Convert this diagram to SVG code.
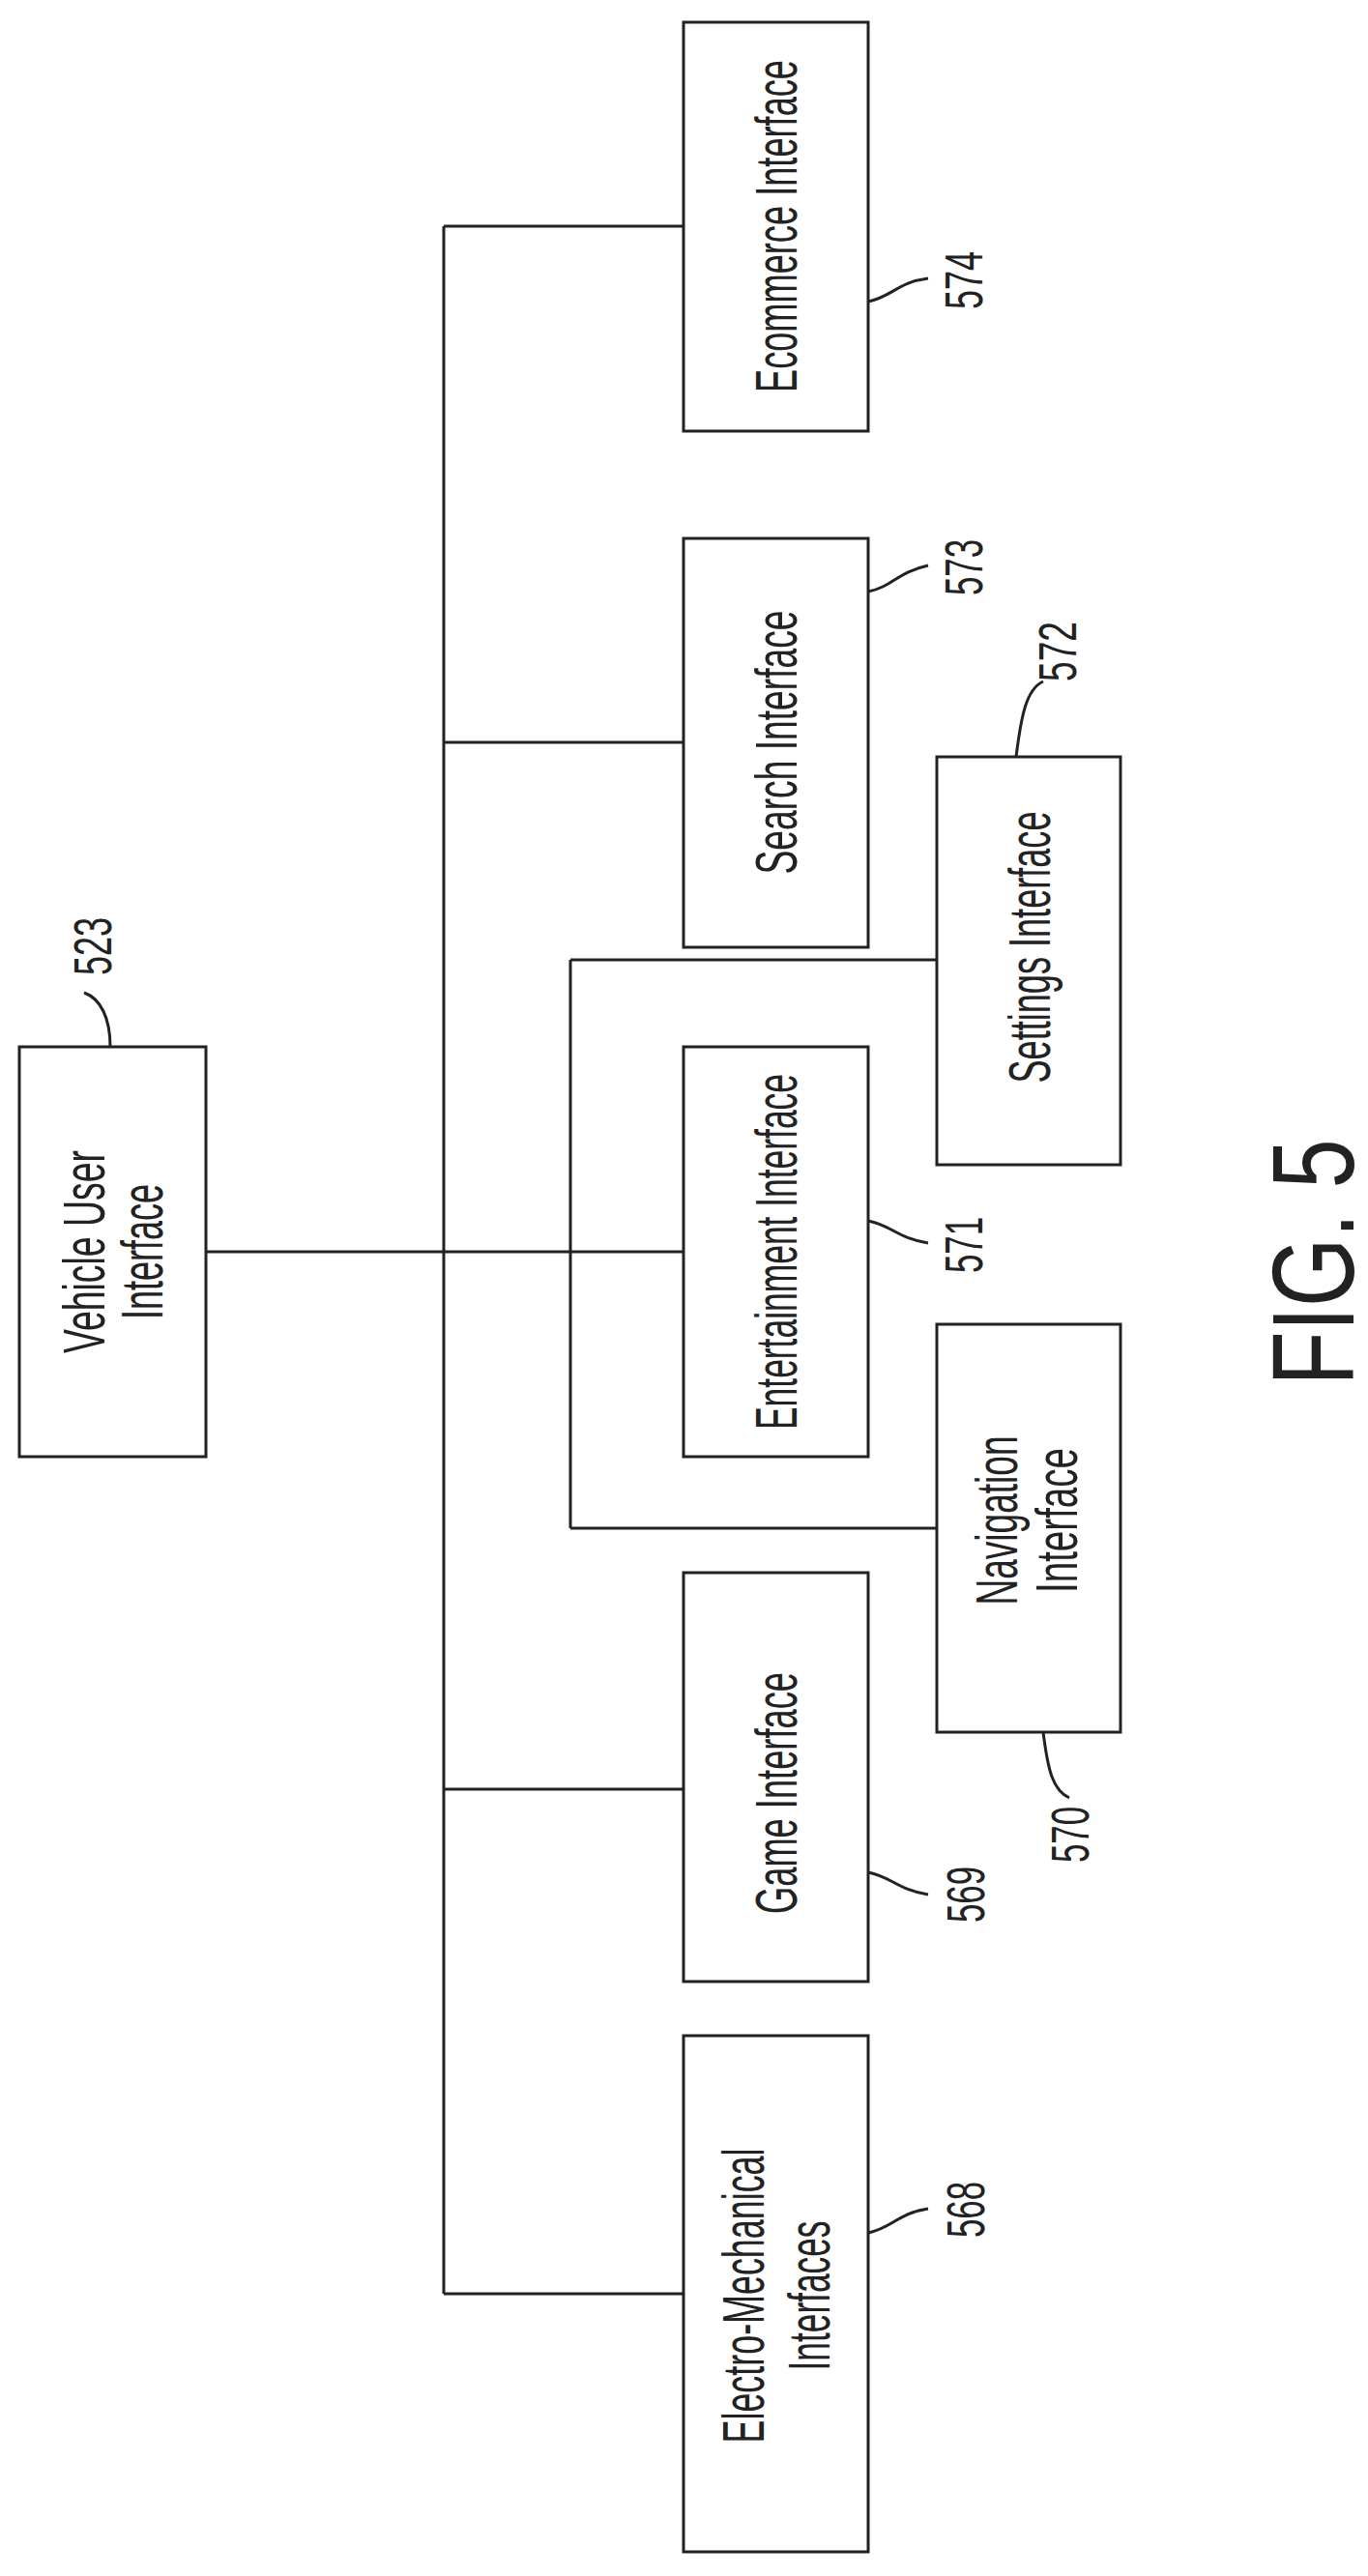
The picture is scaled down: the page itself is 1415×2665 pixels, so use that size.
<svg xmlns="http://www.w3.org/2000/svg" width="1415" height="2665" viewBox="0 0 1415 2665">
<style>
.b{fill:#fff;stroke:#222;stroke-width:3}
.c{fill:none;stroke:#222;stroke-width:3}
.t{font-family:"Liberation Sans",Arial,sans-serif;font-size:62px;fill:#222;text-anchor:middle}
.n{font-family:"Liberation Sans",Arial,sans-serif;font-size:56px;fill:#222;text-anchor:middle}
</style>
<rect width="1415" height="2665" fill="#fff"/>
<g id="connectors">
<path class="c" d="M459 234V2373M459 234H707M459 768H707M459 1851H707M459 2373H707M213 1295H707M590 993V1581M590 993H969M590 1581H969"/>
<path class="c" d="M898 312c25-5 30-20 62-24M898 612c25-5 30-20 62-27M1051 783c5-40 10-70 28-78M114 1083c0-30-10-50-27-56M898 1263c25 5 30 18 62 23M1079 1792c5 40 10 60 27 68M898 1937c25 5 30 18 62 23M898 2310c25-5 30-20 62-25"/>
</g>
<g id="n574"><rect class="b" x="707" y="23" width="191" height="423"/><text class="t" textLength="344" lengthAdjust="spacingAndGlyphs" transform="translate(802,234) rotate(-90)" y="22">Ecommerce Interface</text><text class="n" textLength="60" lengthAdjust="spacingAndGlyphs" transform="translate(996,290) rotate(-90)" y="20">574</text></g>
<g id="n573"><rect class="b" x="707" y="557" width="191" height="423"/><text class="t" textLength="273" lengthAdjust="spacingAndGlyphs" transform="translate(802,768) rotate(-90)" y="22">Search Interface</text><text class="n" textLength="58" lengthAdjust="spacingAndGlyphs" transform="translate(996,587) rotate(-90)" y="20">573</text></g>
<g id="n572"><rect class="b" x="969" y="783" width="190" height="422"/><text class="t" textLength="281" lengthAdjust="spacingAndGlyphs" transform="translate(1064,980) rotate(-90)" y="22">Settings Interface</text><text class="n" textLength="62" lengthAdjust="spacingAndGlyphs" transform="translate(1095,674) rotate(-90)" y="18">572</text></g>
<g id="n523"><rect class="b" x="20" y="1083" width="193" height="424"/><text class="t" textLength="210" lengthAdjust="spacingAndGlyphs" transform="translate(116,1295) rotate(-90)" y="-8">Vehicle User</text><text class="t" textLength="140" lengthAdjust="spacingAndGlyphs" transform="translate(116,1295) rotate(-90)" y="52">Interface</text><text class="n" textLength="60" lengthAdjust="spacingAndGlyphs" transform="translate(97,979) rotate(-90)" y="18">523</text></g>
<g id="n571"><rect class="b" x="707" y="1083" width="191" height="424"/><text class="t" textLength="368" lengthAdjust="spacingAndGlyphs" transform="translate(802,1295) rotate(-90)" y="22">Entertainment Interface</text><text class="n" textLength="58" lengthAdjust="spacingAndGlyphs" transform="translate(996,1288) rotate(-90)" y="20">571</text></g>
<g id="n570"><rect class="b" x="969" y="1370" width="190" height="422"/><text class="t" textLength="175" lengthAdjust="spacingAndGlyphs" transform="translate(1064,1573) rotate(-90)" y="-12">Navigation</text><text class="t" textLength="150" lengthAdjust="spacingAndGlyphs" transform="translate(1064,1573) rotate(-90)" y="50">Interface</text><text class="n" textLength="58" lengthAdjust="spacingAndGlyphs" transform="translate(1106,1898) rotate(-90)" y="20">570</text></g>
<g id="n569"><rect class="b" x="707" y="1627" width="191" height="423"/><text class="t" textLength="250" lengthAdjust="spacingAndGlyphs" transform="translate(802,1855) rotate(-90)" y="22">Game Interface</text><text class="n" textLength="58" lengthAdjust="spacingAndGlyphs" transform="translate(998,1960) rotate(-90)" y="20">569</text></g>
<g id="n568"><rect class="b" x="707" y="2106" width="191" height="534"/><text class="t" textLength="305" lengthAdjust="spacingAndGlyphs" transform="translate(802,2375) rotate(-90)" y="-12">Electro-Mechanical</text><text class="t" textLength="155" lengthAdjust="spacingAndGlyphs" transform="translate(802,2375) rotate(-90)" y="56">Interfaces</text><text class="n" textLength="58" lengthAdjust="spacingAndGlyphs" transform="translate(998,2286) rotate(-90)" y="20">568</text></g>
<text font-family="Liberation Sans,Arial,sans-serif" font-size="120" fill="#222" text-anchor="middle" textLength="255" lengthAdjust="spacingAndGlyphs" transform="translate(1358,1306) rotate(-90)" y="42">FIG. 5</text>
</svg>
